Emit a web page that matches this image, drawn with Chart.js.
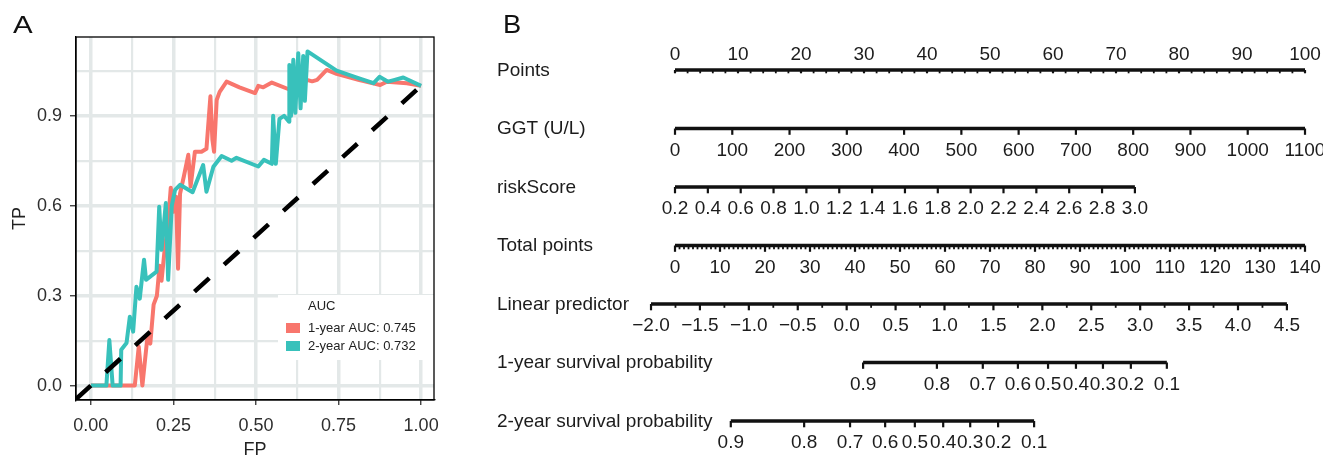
<!DOCTYPE html>
<html><head><meta charset="utf-8">
<script src="https://cdn.jsdelivr.net/npm/chart.js@4.4.0/dist/chart.umd.min.js"></script>
<style>
html,body{margin:0;padding:0;background:#fff;overflow:hidden;width:1323px;height:455px;}
#wrapA{position:absolute;left:0;top:0;width:470px;height:455px;}
#wrapB{position:absolute;left:470px;top:0;width:853px;height:455px;}
.panel{position:absolute;font-family:'Liberation Sans',Arial,sans-serif;line-height:24px;color:#111;transform-origin:0 0;}
</style></head><body>
<div id="wrapA"><canvas id="cA" width="470" height="455"></canvas></div>
<div id="wrapB"><canvas id="cB" width="853" height="455"></canvas></div>
<div class="panel" style="left:13px;top:13px;font-size:23px;transform:scaleX(1.28)">A</div>
<div class="panel" style="left:503px;top:12px;font-size:26px;transform:scaleX(1.05)">B</div>
<script>
// ---------- Panel A data (ROC) ----------
const seriesLabels = ['1-year AUC: 0.745', '2-year AUC: 0.732'];
const seriesColors = ['#F8766D', '#38C1BB'];
const legendTitle = 'AUC';
const fp1 = [0,0.05,0.133,0.145,0.156,0.172,0.18,0.19,0.2,0.208,0.214,0.224,0.232,0.242,0.25,0.258,0.264,0.27,0.282,0.295,0.302,0.315,0.335,0.35,0.362,0.368,0.373,0.381,0.39,0.411,0.45,0.497,0.507,0.522,0.548,0.603,0.63,0.654,0.67,0.685,0.714,0.744,0.81,0.876,0.896,0.957,1];
const tp1 = [0,0,0,0.13,0,0.17,0.14,0.27,0.30,0.40,0.35,0.46,0.52,0.66,0.58,0.63,0.39,0.64,0.70,0.77,0.664,0.78,0.78,0.79,0.965,0.82,0.78,0.953,0.98,1.014,0.995,0.976,1.0,0.995,1.011,0.987,0.995,1.02,1.015,1.02,1.053,1.04,1.02,1.003,1.014,1.009,1];
const fp2 = [0,0.047,0.056,0.066,0.09,0.092,0.108,0.118,0.128,0.138,0.148,0.161,0.167,0.199,0.207,0.214,0.227,0.234,0.245,0.255,0.27,0.308,0.34,0.35,0.371,0.396,0.426,0.441,0.507,0.524,0.548,0.552,0.56,0.571,0.585,0.6,0.601,0.606,0.613,0.619,0.628,0.635,0.643,0.648,0.656,0.744,0.81,0.856,0.874,0.9,0.92,0.946,1];
const tp2 = [0,0,0.152,0,0,0.12,0.142,0.23,0.18,0.33,0.29,0.42,0.353,0.38,0.597,0.453,0.609,0.353,0.60,0.653,0.67,0.645,0.736,0.647,0.73,0.766,0.75,0.76,0.731,0.753,0.74,0.90,0.74,0.89,0.9,0.88,1.07,0.9,1.087,0.91,1.109,0.925,1.1,0.95,1.115,1.051,1.026,1.009,1.03,1.014,1.02,1.028,1];
const diagX = [-0.045, 1];
const xTickVals = [0, 0.25, 0.5, 0.75, 1];
const xMinorVals = [0.125, 0.375, 0.625, 0.875];
const yTickVals = [0, 0.3, 0.6, 0.9];
const yMinorVals = [0.15, 0.45, 0.75, 1.05];

// ---------- Panel B data (nomogram) ----------
const rowNames = ['Points','GGT (U/L)','riskScore','Total points','Linear predictor','1-year survival probability','2-year survival probability'];
const pointsTicks = [0,10,20,30,40,50,60,70,80,90,100];
const pointsMinor = [2,4,6,8,12,14,16,18,22,24,26,28,32,34,36,38,42,44,46,48,52,54,56,58,62,64,66,68,72,74,76,78,82,84,86,88,92,94,96,98];
const ggtTicks = [0,100,200,300,400,500,600,700,800,900,1000,1100];
const ggtMaxPoints = 100;
const riskTicks = [0.2,0.4,0.6,0.8,1.0,1.2,1.4,1.6,1.8,2.0,2.2,2.4,2.6,2.8,3.0];
const riskMaxPoints = 73;
const totalTicks = [0,10,20,30,40,50,60,70,80,90,100,110,120,130,140];
const lpTicks = [-2.0,-1.5,-1.0,-0.5,0.0,0.5,1.0,1.5,2.0,2.5,3.0,3.5,4.0,4.5];
const lpMinor = [-1.75,-1.25,-0.75,-0.25,0.25,0.75,1.25,1.75,2.25,2.75,3.25,3.75,4.25];
const lpTotalAtZero = 38.15;
const lpTotalPerUnit = 21.74;
const surv1Labels = ['0.9','0.8','0.7','0.6','0.5','0.4','0.3','0.2','0.1'];
const surv1Total = [41.8,58.2,68.4,76.2,82.9,89.1,95.1,101.3,109.3];
const surv2Labels = ['0.9','0.8','0.7','0.6','0.5','0.4','0.3','0.2','0.1'];
const surv2Total = [12.4,28.7,38.9,46.7,53.3,59.6,65.6,71.8,79.8];

const FONT = "'Liberation Sans', Arial, sans-serif";

// ---------- Chart A ----------
const xAll = [...xTickVals, ...xMinorVals].sort((a,b)=>a-b);
const yAll = [...yTickVals, ...yMinorVals].sort((a,b)=>a-b);
const gridColor = '#E3E8E8';

const frameLegendA = {
  id: 'frameLegendA',
  afterDatasetsDraw(chart) {
    const {ctx, chartArea: ca} = chart;
    ctx.save();
    const bx = ca.right - 156, by = ca.bottom - 105;
    ctx.fillStyle = '#fff';
    ctx.fillRect(bx, by, ca.right - bx, 65);
    ctx.fillStyle = '#222';
    ctx.font = '13px ' + FONT;
    ctx.textBaseline = 'middle';
    ctx.textAlign = 'left';
    ctx.fillText(legendTitle, bx + 30, by + 11);
    const items = [chart.data.datasets[2], chart.data.datasets[1]];
    items.forEach((ds, i) => {
      const yy = by + 33 + i * 18;
      ctx.fillStyle = ds.borderColor;
      ctx.fillRect(bx + 8, yy - 5, 14, 10);
      ctx.fillStyle = '#222';
      ctx.fillText(ds.label, bx + 30, yy + 0.5);
    });
    ctx.strokeStyle = '#000';
    ctx.lineWidth = 1.3;
    ctx.strokeRect(ca.left, ca.top, ca.right - ca.left, ca.bottom - ca.top);
    ctx.restore();
  }
};

new Chart(document.getElementById('cA'), {
  type: 'scatter',
  data: {
    datasets: [
      {label: 'diagonal', data: diagX.map(v => ({x: v, y: v})), showLine: true, borderColor: '#000',
       borderWidth: 4.5, borderDash: [20, 20], borderCapStyle: 'butt', pointRadius: 0, order: 0, clip: 0},
      {label: seriesLabels[1], data: fp2.map((x, i) => ({x, y: tp2[i]})), showLine: true,
       borderColor: seriesColors[1], backgroundColor: seriesColors[1], borderWidth: 4, borderJoinStyle: 'round',
       pointRadius: 0, order: 1, clip: 0},
      {label: seriesLabels[0], data: fp1.map((x, i) => ({x, y: tp1[i]})), showLine: true,
       borderColor: seriesColors[0], backgroundColor: seriesColors[0], borderWidth: 4, borderJoinStyle: 'round',
       pointRadius: 0, order: 2, clip: 0}
    ]
  },
  options: {
    responsive: false, animation: false, devicePixelRatio: 1,
    layout: {padding: {left: 0, top: 37, right: 36, bottom: 0}},
    plugins: {legend: {display: false}, tooltip: {enabled: false}},
    scales: {
      x: {
        type: 'linear', min: -0.045, max: 1.039,
        afterBuildTicks: s => { s.ticks = xAll.map(v => ({value: v})); },
        afterFit: s => { s.height = 55; },
        ticks: {autoSkip: false, maxRotation: 0, padding: 10, color: '#2e2e2e', font: {family: FONT, size: 18},
          callback: v => xTickVals.includes(v) ? v.toFixed(2) : ''},
        grid: {color: gridColor, lineWidth: c => xTickVals.includes(c.tick.value) ? 3.5 : 2.2,
          drawTicks: true, tickLength: 5, tickWidth: 1.3,
          tickColor: c => xTickVals.includes(c.tick.value) ? '#333' : 'rgba(0,0,0,0)'},
        border: {display: true, color: '#000', width: 1.3},
        title: {display: true, text: 'FP', color: '#222', font: {family: FONT, size: 18}, padding: {top: 0, bottom: -6}}
      },
      y: {
        type: 'linear', min: -0.048, max: 1.163,
        afterBuildTicks: s => { s.ticks = yAll.map(v => ({value: v})); },
        afterFit: s => { s.width = 76; },
        ticks: {autoSkip: false, padding: 8, color: '#2e2e2e', font: {family: FONT, size: 18},
          callback: v => yTickVals.includes(v) ? v.toFixed(1) : ''},
        grid: {color: gridColor, lineWidth: c => yTickVals.includes(c.tick.value) ? 3.5 : 2.2,
          drawTicks: true, tickLength: 6, tickWidth: 1.3,
          tickColor: c => yTickVals.includes(c.tick.value) ? '#333' : 'rgba(0,0,0,0)'},
        border: {display: true, color: '#000', width: 1.3},
        title: {display: true, text: 'TP', color: '#222', font: {family: FONT, size: 18}, padding: {top: 9, bottom: 0}}
      }
    }
  },
  plugins: [frameLegendA]
});

// ---------- Chart B (nomogram) ----------
const fmt1 = v => (v < 0 ? '\u2212' + Math.abs(v).toFixed(1) : v.toFixed(1));
const rows = [
  {vals: pointsTicks, minor: pointsMinor, tp: v => v * 1.4, text: v => String(v), above: true, majorLen: 1.5, minorLen: 1.5},
  {vals: ggtTicks, tp: v => v / 1100 * ggtMaxPoints * 1.4, text: v => String(v), majorLen: 4.5},
  {vals: riskTicks, tp: v => (v - 0.2) / 2.8 * riskMaxPoints * 1.4, text: v => v.toFixed(1), majorLen: 4.5},
  {vals: totalTicks, minor: [...Array(141).keys()].filter(v => v % 10 !== 0), tp: v => v, text: v => String(v), majorLen: 4.5, minorLen: 2},
  {vals: lpTicks, minor: lpMinor, tp: v => lpTotalAtZero + lpTotalPerUnit * v, text: fmt1, majorLen: 4.5, minorLen: 2},
  {vals: surv1Labels, pos: surv1Total, text: v => v, majorLen: 4.5},
  {vals: surv2Labels, pos: surv2Total, text: v => v, majorLen: 4.5}
];
rows.forEach(r => { r.at = r.pos ? r.pos : r.vals.map(r.tp); });

const nomoPlugin = {
  id: 'nomo',
  afterDatasetsDraw(chart) {
    const {ctx, scales: {x, y}, chartArea: ca} = chart;
    ctx.save();
    ctx.strokeStyle = '#111';
    ctx.fillStyle = '#1c1c1c';
    ctx.font = '19px ' + FONT;
    ctx.lineCap = 'butt';
    rows.forEach((r, i) => {
      const yp = y.getPixelForValue(i);
      ctx.textAlign = 'left';
      ctx.textBaseline = 'alphabetic';
      ctx.fillText(rowNames[i], ca.left - 178, yp + 5.5);
      ctx.lineWidth = 1.8;
      (r.minor || []).forEach(v => {
        const xp = x.getPixelForValue(r.tp(v));
        ctx.beginPath(); ctx.moveTo(xp, yp); ctx.lineTo(xp, yp + 1.8 + r.minorLen); ctx.stroke();
      });
      ctx.lineWidth = 2.2;
      ctx.textAlign = 'center';
      r.vals.forEach((v, k) => {
        const xp = x.getPixelForValue(r.at[k]);
        ctx.beginPath(); ctx.moveTo(xp, yp); ctx.lineTo(xp, yp + 1.8 + r.majorLen); ctx.stroke();
        ctx.fillText(r.text(v), xp, r.above ? yp - 10.5 : yp + 27);
      });
    });
    ctx.restore();
  }
};

new Chart(document.getElementById('cB'), {
  type: 'scatter',
  data: {
    datasets: rows.map((r, i) => ({
      label: rowNames[i],
      data: [{x: r.at[0], y: i}, {x: r.at[r.at.length - 1], y: i}],
      showLine: true, borderColor: '#111', borderWidth: 3.6, borderCapStyle: 'butt',
      pointRadius: 0, clip: false
    }))
  },
  options: {
    responsive: false, animation: false, devicePixelRatio: 1,
    layout: {padding: {left: 205, right: 18, top: 70, bottom: 34}},
    plugins: {legend: {display: false}, tooltip: {enabled: false}},
    scales: {
      x: {type: 'linear', min: 0, max: 140, display: false},
      y: {type: 'linear', min: 0, max: 6, reverse: true, display: false}
    }
  },
  plugins: [nomoPlugin]
});
</script>
</body></html>
